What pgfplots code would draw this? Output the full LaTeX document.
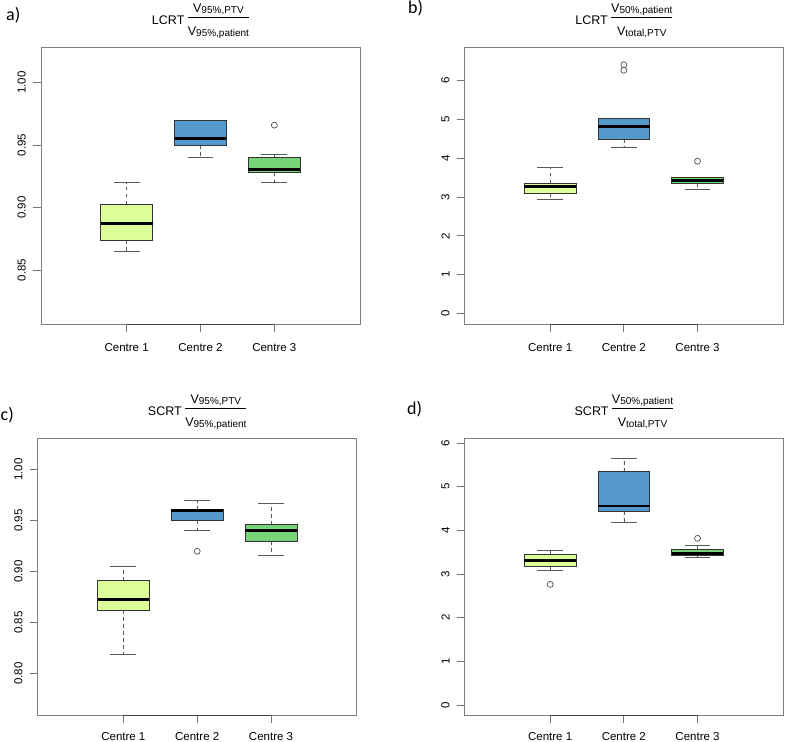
\documentclass[border=0pt]{standalone}
\usepackage{pgfplots}
\pgfplotsset{compat=1.18}
\usepgfplotslibrary{statistics}
\usepackage{fontspec}
\setmainfont{Liberation Sans}
\newfontfamily\panelfont{Carlito}

\definecolor{cyel}{HTML}{DDFF99}
\definecolor{cblu}{HTML}{5599CC}
\definecolor{cgrn}{HTML}{77D477}

% fraction in the titles, built by hand to sit like R's plotmath
\newlength\fracw
\newsavebox\fracnum
\newsavebox\fracden
\newcommand{\rfrac}[2]{%
  \sbox\fracnum{#1}\sbox\fracden{#2}%
  \ifdim\wd\fracnum>\wd\fracden \setlength\fracw{\wd\fracnum}\else\setlength\fracw{\wd\fracden}\fi
  \raisebox{-11pt}{%
    \makebox[0pt][l]{\makebox[\fracw]{\raisebox{22.6pt}{\usebox\fracnum}}}%
    \makebox[0pt][l]{\rule[17pt]{\fracw}{0.7pt}}%
    \makebox[\fracw]{\usebox\fracden}}}
\newcommand{\sub}[1]{\raisebox{-1.5pt}{\fontsize{10}{10}\selectfont #1}}
\newcommand{\ttl}[3]{#1 \rfrac{V\sub{#2}}{V\sub{#3}}}

\pgfplotsset{
  rpanel/.style={
    scale only axis, width=319pt, height=276.3pt,
    xmin=-0.16, xmax=4.16, xtick={1,2,3},
    xticklabels={Centre 1,Centre 2,Centre 3},
    tick align=outside, tick pos=left,
    major tick length=7.5pt,
    axis line style={draw=black!50, line width=0.8pt},
    major tick style={draw=black!55, line width=0.8pt},
    ticklabel style={font=\fontsize{11.5}{13}\selectfont},
    yticklabel style={rotate=90, anchor=south, inner xsep=0pt, inner ysep=7.5pt},
    xticklabel style={anchor=base, inner sep=0pt, yshift=-19.7pt},
    /pgf/number format/assume math mode=true,
    title style={at={(0.5,1)}, anchor=base, yshift=17.7pt, inner sep=0pt,
      font=\fontsize{12.5}{14}\selectfont},
    clip=false,
    boxplot/draw direction=y,
    boxplot/box extend=0.7,
    boxplot/whisker extend=0.35,
    boxplot/every median/.style={draw=black, line width=2.8pt},
    boxplot/every whisker/.style={draw=black!65, line width=0.7pt},
    boxplot/draw/lower whisker/.code={
      \draw[/pgfplots/boxplot/every whisker/.try, dash pattern=on 3.5pt off 3.5pt]
        (boxplot box cs:\pgfplotsboxplotvalue{lower quartile},0.5)
        -- (boxplot box cs:\pgfplotsboxplotvalue{lower whisker},0.5);
      \draw[/pgfplots/boxplot/every whisker/.try]
        (boxplot whisker cs:\pgfplotsboxplotvalue{lower whisker},0)
        -- (boxplot whisker cs:\pgfplotsboxplotvalue{lower whisker},1);
    },
    boxplot/draw/upper whisker/.code={
      \draw[/pgfplots/boxplot/every whisker/.try, dash pattern=on 3.5pt off 3.5pt]
        (boxplot box cs:\pgfplotsboxplotvalue{upper quartile},0.5)
        -- (boxplot box cs:\pgfplotsboxplotvalue{upper whisker},0.5);
      \draw[/pgfplots/boxplot/every whisker/.try]
        (boxplot whisker cs:\pgfplotsboxplotvalue{upper whisker},0)
        -- (boxplot whisker cs:\pgfplotsboxplotvalue{upper whisker},1);
    },
  },
  rbox/.style={boxplot prepared={#1}, draw=black!80, line width=0.7pt,
    mark=o, mark size=3pt, mark options={draw=black!70, solid, line width=0.7pt}},
}

\begin{document}
\begin{tikzpicture}
\useasboundingbox (0,0) rectangle (785pt,-742pt);

% a) LCRT V95%,PTV / V95%,patient
\begin{axis}[rpanel, at={(41pt,-324pt)}, anchor=south west,
    ymin=0.8068, ymax=1.028,
    ytick={0.85,0.90,0.95,1.00}, yticklabels={0.85,0.90,0.95,1.00},
    title={\ttl{LCRT}{95\%,PTV}{95\%,patient}}]
  \addplot[rbox={draw position=1, lower whisker=0.865, lower quartile=0.874,
    median=0.887, upper quartile=0.9025, upper whisker=0.920}, fill=cyel]
    coordinates {};
  \addplot[rbox={draw position=2, lower whisker=0.940, lower quartile=0.950,
    median=0.955, upper quartile=0.970, upper whisker=0.970}, fill=cblu]
    coordinates {};
  \addplot[rbox={draw position=3, lower whisker=0.920, lower quartile=0.928,
    median=0.9306, upper quartile=0.940, upper whisker=0.9426}, fill=cgrn]
    table[row sep=\\, y index=0] {v\\ 0.966\\};
  \draw[black!75, line width=0.9pt] (rel axis cs:0.2685,0) -- (rel axis cs:0.7315,0);
\end{axis}

% b) LCRT V50%,patient / Vtotal,PTV
\begin{axis}[rpanel, at={(464.7pt,-324pt)}, anchor=south west, width=318.3pt,
    ymin=-0.266, ymax=6.84, ytick={0,1,2,3,4,5,6},
    title={\ttl{LCRT}{50\%,patient}{total,PTV}}]
  \addplot[rbox={draw position=1, lower whisker=2.95, lower quartile=3.10,
    median=3.27, upper quartile=3.36, upper whisker=3.753}, fill=cyel]
    coordinates {};
  \addplot[rbox={draw position=2, lower whisker=4.29, lower quartile=4.49,
    median=4.82, upper quartile=5.03, upper whisker=5.03}, fill=cblu]
    table[row sep=\\, y index=0] {v\\ 6.26\\ 6.40\\};
  \addplot[rbox={draw position=3, lower whisker=3.20, lower quartile=3.34,
    median=3.43, upper quartile=3.50, upper whisker=3.51}, fill=cgrn]
    table[row sep=\\, y index=0] {v\\ 3.92\\};
  \draw[black!75, line width=0.9pt] (rel axis cs:0.2685,0) -- (rel axis cs:0.7315,0);
\end{axis}

% c) SCRT V95%,PTV / V95%,patient
\begin{axis}[rpanel, at={(37.7pt,-715pt)}, anchor=south west,
    ymin=0.7595, ymax=1.0304,
    ytick={0.80,0.85,0.90,0.95,1.00}, yticklabels={0.80,0.85,0.90,0.95,1.00},
    xticklabel style={yshift=2pt},
    title={\ttl{SCRT}{95\%,PTV}{95\%,patient}}]
  \addplot[rbox={draw position=1, lower whisker=0.8193, lower quartile=0.8621,
    median=0.8729, upper quartile=0.8912, upper whisker=0.9056}, fill=cyel]
    coordinates {};
  \addplot[rbox={draw position=2, lower whisker=0.9402, lower quartile=0.950,
    median=0.9601, upper quartile=0.9608, upper whisker=0.9703}, fill=cblu]
    table[row sep=\\, y index=0] {v\\ 0.920\\};
  \addplot[rbox={draw position=3, lower whisker=0.916, lower quartile=0.930,
    median=0.9402, upper quartile=0.946, upper whisker=0.9673}, fill=cgrn]
    coordinates {};
  \draw[black!75, line width=0.9pt] (rel axis cs:0.2685,0) -- (rel axis cs:0.7315,0);
\end{axis}

% d) SCRT V50%,patient / Vtotal,PTV
\begin{axis}[rpanel, at={(464.7pt,-715pt)}, anchor=south west, width=318.3pt,
    ymin=-0.229, ymax=6.10, ytick={0,1,2,3,4,5,6},
    xticklabel style={yshift=2pt},
    title={\ttl{SCRT}{50\%,patient}{total,PTV}}]
  \addplot[rbox={draw position=1, lower whisker=3.084, lower quartile=3.18,
    median=3.313, upper quartile=3.45, upper whisker=3.542}, fill=cyel]
    table[row sep=\\, y index=0] {v\\ 2.763\\};
  \addplot[rbox={draw position=2, lower whisker=4.183, lower quartile=4.435,
    median=4.557, upper quartile=5.344, upper whisker=5.656}, fill=cblu]
    coordinates {};
  \addplot[rbox={draw position=3, lower whisker=3.389, lower quartile=3.435,
    median=3.473, upper quartile=3.565, upper whisker=3.649}, fill=cgrn]
    table[row sep=\\, y index=0] {v\\ 3.817\\};
  \draw[black!75, line width=0.9pt] (rel axis cs:0.2685,0) -- (rel axis cs:0.7315,0);
\end{axis}

% panel letters
\node[anchor=base west, inner sep=0pt, font=\panelfont\fontsize{18}{20}\selectfont] at (6pt,-20pt) {a)};
\node[anchor=base west, inner sep=0pt, font=\panelfont\fontsize{18}{20}\selectfont] at (408pt,-13pt) {b)};
\node[anchor=base west, inner sep=0pt, font=\panelfont\fontsize{18}{20}\selectfont] at (0.5pt,-420pt) {c)};
\node[anchor=base west, inner sep=0pt, font=\panelfont\fontsize{18}{20}\selectfont] at (407pt,-414pt) {d)};
\end{tikzpicture}
\end{document}
